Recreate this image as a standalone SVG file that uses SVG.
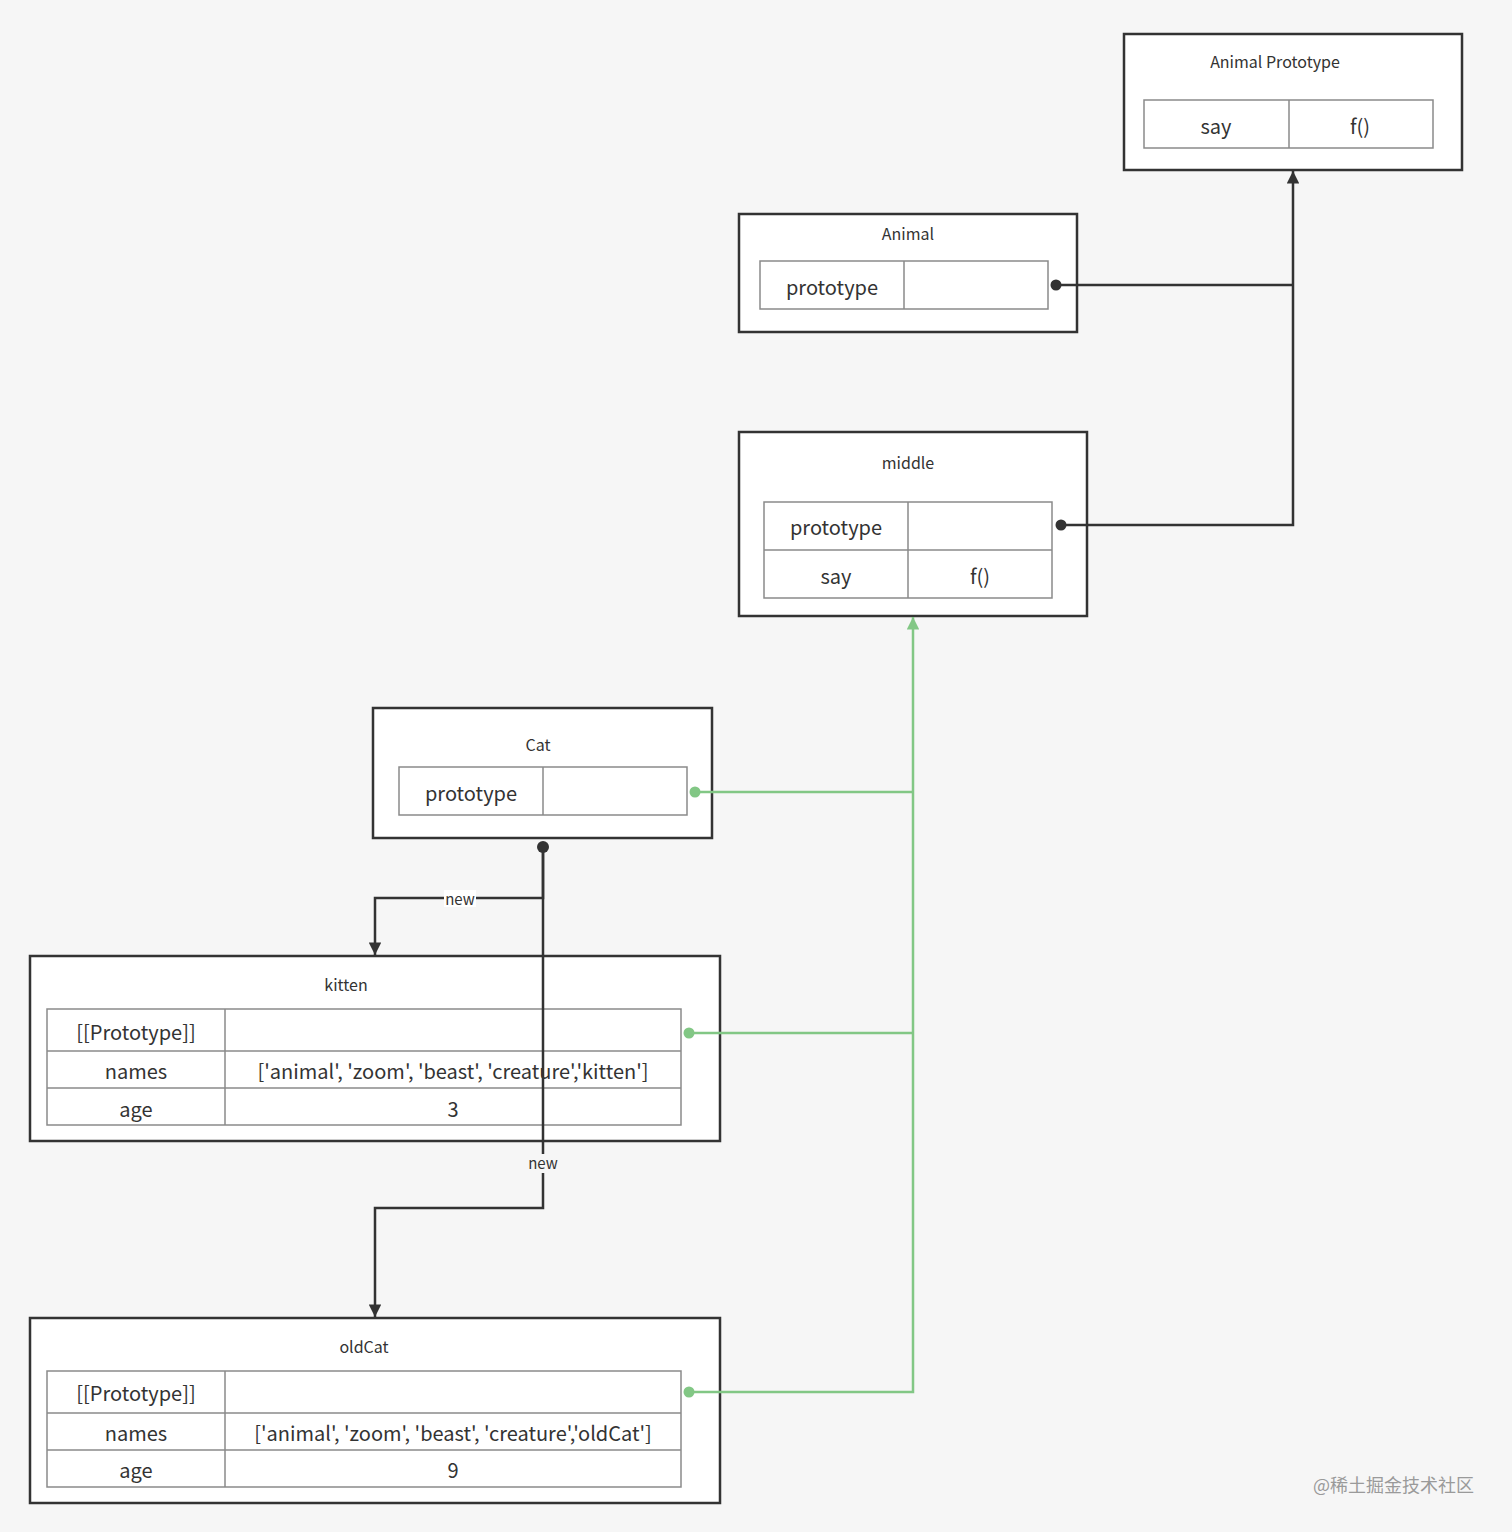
<svg xmlns="http://www.w3.org/2000/svg" width="1512" height="1532" viewBox="0 0 1512 1532">
<defs>
<style>
.box{fill:#ffffff;stroke:#333333;stroke-width:2.5}
.cell{fill:#ffffff;stroke:#8a8a8a;stroke-width:1.5}
.div{stroke:#8a8a8a;stroke-width:1.5}
.t{font-family:"Noto Sans CJK SC","Noto Sans",sans-serif;fill:#333333;text-anchor:middle;dominant-baseline:central}
.title{font-size:16px}
.cellt{font-size:20px}
.blk{fill:none;stroke:#333333;stroke-width:2.5}
.grn{fill:none;stroke:#82c785;stroke-width:2.5}
.lbl{font-family:"Noto Sans CJK SC","Noto Sans",sans-serif;font-size:15px;fill:#333333;text-anchor:middle;dominant-baseline:central}
</style>
<marker id="ab" viewBox="0 0 10 10" refX="10" refY="5" markerWidth="5.5" markerHeight="5" orient="auto" markerUnits="strokeWidth"><path d="M0,0 L10,5 L0,10 z" fill="#333333"/></marker>
<marker id="ag" viewBox="0 0 10 10" refX="10" refY="5" markerWidth="5.5" markerHeight="5" orient="auto" markerUnits="strokeWidth"><path d="M0,0 L10,5 L0,10 z" fill="#82c785"/></marker>
</defs>
<rect x="0" y="0" width="1512" height="1532" fill="#f6f6f6"/>

<g id="animal-prototype">
<rect class="box" x="1124" y="34" width="338" height="136"/>
<text class="t title" x="1275" y="61">Animal Prototype</text>
<rect class="cell" x="1144" y="100" width="289" height="48"/>
<line class="div" x1="1289" y1="100" x2="1289" y2="148"/>
<text class="t cellt" x="1216" y="125">say</text>
<text class="t cellt" x="1360" y="125">f()</text>
</g>

<g id="animal">
<rect class="box" x="739" y="214" width="338" height="118"/>
<text class="t title" x="908" y="233">Animal</text>
<rect class="cell" x="760" y="261" width="288" height="48"/>
<line class="div" x1="904" y1="261" x2="904" y2="309"/>
<text class="t cellt" x="832" y="286">prototype</text>
</g>

<g id="middle">
<rect class="box" x="739" y="432" width="348" height="184"/>
<text class="t title" x="908" y="462">middle</text>
<rect class="cell" x="764" y="502" width="288" height="96"/>
<line class="div" x1="764" y1="550" x2="1052" y2="550"/>
<line class="div" x1="908" y1="502" x2="908" y2="598"/>
<text class="t cellt" x="836" y="526">prototype</text>
<text class="t cellt" x="836" y="575">say</text>
<text class="t cellt" x="980" y="575">f()</text>
</g>

<g id="cat">
<rect class="box" x="373" y="708" width="339" height="130"/>
<text class="t title" x="538" y="744">Cat</text>
<rect class="cell" x="399" y="767" width="288" height="48"/>
<line class="div" x1="543" y1="767" x2="543" y2="815"/>
<text class="t cellt" x="471" y="792">prototype</text>
</g>

<g id="kitten">
<rect class="box" x="30" y="956" width="690" height="185"/>
<text class="t title" x="346" y="984">kitten</text>
<rect class="cell" x="47" y="1009" width="634" height="116"/>
<line class="div" x1="47" y1="1051" x2="681" y2="1051"/>
<line class="div" x1="47" y1="1088" x2="681" y2="1088"/>
<line class="div" x1="225" y1="1009" x2="225" y2="1125"/>
<text class="t cellt" x="136" y="1031">[[Prototype]]</text>
<text class="t cellt" x="136" y="1070">names</text>
<text class="t cellt" x="453" y="1070">['animal', 'zoom', 'beast', 'creature','kitten']</text>
<text class="t cellt" x="136" y="1108">age</text>
<text class="t cellt" x="453" y="1108">3</text>
</g>

<g id="oldcat">
<rect class="box" x="30" y="1318" width="690" height="185"/>
<text class="t title" x="364" y="1346">oldCat</text>
<rect class="cell" x="47" y="1371" width="634" height="116"/>
<line class="div" x1="47" y1="1413" x2="681" y2="1413"/>
<line class="div" x1="47" y1="1450" x2="681" y2="1450"/>
<line class="div" x1="225" y1="1371" x2="225" y2="1487"/>
<text class="t cellt" x="136" y="1392">[[Prototype]]</text>
<text class="t cellt" x="136" y="1432">names</text>
<text class="t cellt" x="453" y="1432">['animal', 'zoom', 'beast', 'creature','oldCat']</text>
<text class="t cellt" x="136" y="1469">age</text>
<text class="t cellt" x="453" y="1469">9</text>
</g>

<g id="connectors">
<path class="blk" d="M1056,285 L1293,285" />
<path class="blk" d="M1061,525 L1293,525 L1293,171" marker-end="url(#ab)"/>
<circle cx="1056" cy="285" r="5.5" fill="#333333"/>
<circle cx="1061" cy="525" r="5.5" fill="#333333"/>

<path class="grn" d="M695,792 L913,792"/>
<path class="grn" d="M689,1033 L913,1033"/>
<path class="grn" d="M689,1392 L913,1392 L913,617" marker-end="url(#ag)"/>
<circle cx="695" cy="792" r="5.5" fill="#82c785"/>
<circle cx="689" cy="1033" r="5.5" fill="#82c785"/>
<circle cx="689" cy="1392" r="5.5" fill="#82c785"/>

<path class="blk" d="M543,847 L543,898 L375,898 L375,955" marker-end="url(#ab)"/>
<path class="blk" d="M543,847 L543,1208 L375,1208 L375,1317" marker-end="url(#ab)"/>
<circle cx="543" cy="847" r="6" fill="#333333"/>
<rect x="444" y="890" width="32" height="17" fill="#ffffff"/>
<text class="lbl" x="460" y="898">new</text>
<rect x="527" y="1154" width="33" height="19" fill="#f6f6f6"/>
<text class="lbl" x="543" y="1162">new</text>
</g>

<text x="1474" y="1484" font-family="Noto Sans CJK SC, sans-serif" font-size="18" fill="#9a9a9a" text-anchor="end" dominant-baseline="central">@稀土掘金技术社区</text>
</svg>
